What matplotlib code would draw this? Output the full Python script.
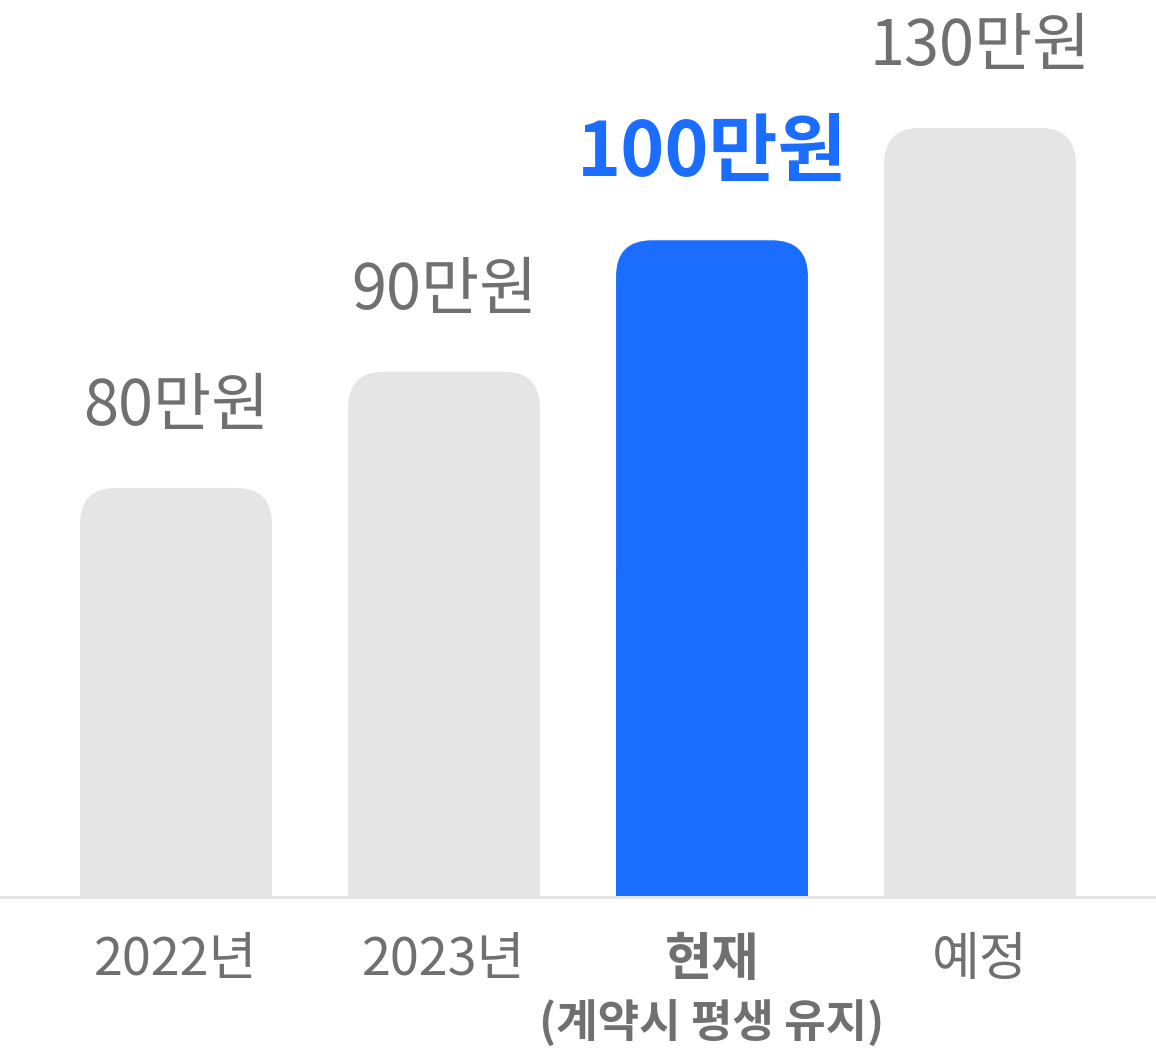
import matplotlib
matplotlib.use("Agg")
from matplotlib import pyplot as plt
from matplotlib.patches import FancyBboxPatch

plt.rcParams['font.family'] = ['Noto Sans CJK KR', 'DejaVu Sans']

## Data
categories = ['2022년', '2023년', '현재', '예정']
sub_labels = ['', '', '(계약시 평생 유지)', '']
values = [80, 90, 100, 130]            # shown in labels (만원)
bar_heights = [53.2, 68.3, 85.4, 100]  # drawn height
highlight = 2

gray_bar = '#e5e5e5'
blue = '#1a6dff'
text_gray = '#707070'

## Figure, one axes over the whole canvas
W, H, DPI = 1156, 1056, 100
fig = plt.figure(figsize=(W / DPI, H / DPI), dpi=DPI)
ax = fig.add_axes([0, 0, 1, 1])

px_x = 268          # pixels per category step
px_y = 7.69         # pixels per height unit
x0, y0 = 176, 159   # pixel pos of first bar centre / baseline (from bottom)
ax.set_xlim(-x0 / px_x, (W - x0) / px_x)
ax.set_ylim(-y0 / px_y, (H - y0) / px_y)
ax.axis('off')

width = 0.716
r = 36  # corner radius in pixels
rx = r / px_x
aspect = px_x / px_y

for i, h in enumerate(bar_heights):
    c = blue if i == highlight else gray_bar
    # square bottom part, rounded top part
    ax.bar(i, h / 2, width=width, color=c, linewidth=0, zorder=2)
    box = FancyBboxPatch((i - width / 2, 0), width, h,
                         boxstyle="round,pad=0,rounding_size=%f" % rx,
                         mutation_aspect=aspect, fc=c, ec='none', zorder=2)
    ax.add_patch(box)

    # value label
    if i == highlight:
        ax.annotate('%d만원' % values[i], xy=(i, h), xytext=(0, 86),
                    textcoords='offset pixels', ha='center', va='center',
                    fontsize=54, fontweight='bold', color=blue)
    else:
        ax.annotate('%d만원' % values[i], xy=(i, h), xytext=(0, 81),
                    textcoords='offset pixels', ha='center', va='center',
                    fontsize=45.5, fontweight=350, color=text_gray)

    # category label
    if i == highlight:
        ax.annotate(categories[i], xy=(i, 0), xytext=(0, -63),
                    textcoords='offset pixels', ha='center', va='center',
                    fontsize=37, fontweight='bold', color=text_gray)
    else:
        ax.annotate(categories[i], xy=(i, 0), xytext=(0, -63),
                    textcoords='offset pixels', ha='center', va='center',
                    fontsize=37.5, fontweight=350, color=text_gray)
    if sub_labels[i]:
        ax.annotate(sub_labels[i], xy=(i, 0), xytext=(0, -127),
                    textcoords='offset pixels', ha='center', va='center',
                    fontsize=32.5, fontweight='bold', color=text_gray)

# baseline
ax.axhline(0, color=gray_bar, linewidth=2.2, zorder=3)

fig.savefig('out.png', dpi=DPI)
